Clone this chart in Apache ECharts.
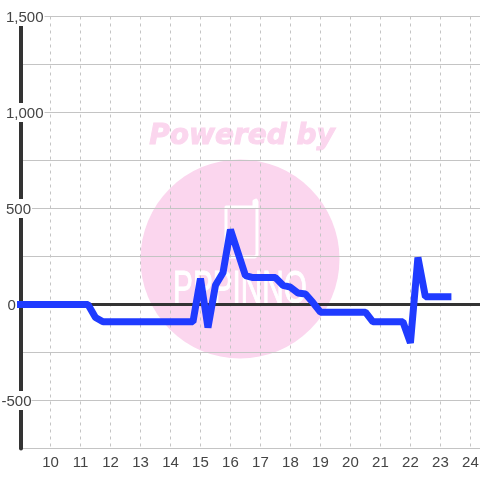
<!DOCTYPE html>
<html>
<head>
<meta charset="utf-8">
<style>
html, body { margin: 0; padding: 0; background: #fff; }
#main { width: 480px; height: 480px; }
</style>
<script src="https://cdn.jsdelivr.net/npm/echarts@6/dist/echarts.min.js"></script>
</head>
<body>
<div id="main"></div>
<script>
const hours = [9, 9.25, 9.5, 9.75, 10, 10.25, 10.5, 10.75, 11, 11.25, 11.5, 11.75, 12, 12.25, 12.5, 12.75, 13, 13.25, 13.5, 13.75, 14, 14.25, 14.5, 14.75, 15, 15.25, 15.5, 15.75, 16, 16.25, 16.5, 16.75, 17, 17.25, 17.5, 17.75, 18, 18.25, 18.5, 18.75, 19, 19.25, 19.5, 19.75, 20, 20.25, 20.5, 20.75, 21, 21.25, 21.5, 21.75, 22, 22.25, 22.5, 22.75, 23, 23.25];
const values = [0, 0, 0, 0, 0, 0, 0, 0, 0, 0, -68, -90, -90, -90, -90, -90, -90, -90, -90, -90, -90, -90, -90, -90, 135, -120, 100, 165, 390, 270, 150, 140, 140, 140, 140, 100, 90, 60, 55, 10, -40, -40, -40, -40, -40, -40, -40, -90, -90, -90, -90, -90, -200, 245, 40, 40, 40, 40];
const xTicks = [10, 11, 12, 13, 14, 15, 16, 17, 18, 19, 20, 21, 22, 23, 24];
const zeroLine = 0;
const font = 'Liberation Sans';

const chart = echarts.init(document.getElementById('main'));
chart.setOption({
    animation: false,
    backgroundColor: '#fff',
    textStyle: { fontFamily: font },
    graphic: [
        {
            type: 'circle',
            z: -1,
            shape: { cx: 240, cy: 259, r: 99.5 },
            style: { fill: '#fbd6ee' }
        },
        {
            type: 'text',
            z: -1,
            style: {
                x: 242, y: 137,
                text: 'Powered by',
                align: 'center',
                verticalAlign: 'middle',
                font: 'italic bold 28px "DejaVu Sans"',
                fill: '#fbd6ee',
                stroke: '#fbd6ee',
                lineWidth: 1
            }
        },
        {
            type: 'text',
            z: -1,
            x: 240,
            y: 290,
            scaleX: 0.93,
            scaleY: 1.43,
            style: {
                text: 'PPPINNO',
                align: 'center',
                verticalAlign: 'middle',
                font: '32px "Liberation Sans"',
                fill: '#fff',
                stroke: '#fff',
                lineWidth: 0.7
            }
        },
        {
            type: 'polyline',
            z: -1,
            shape: { points: [[226, 257], [226, 207], [254, 207], [254, 201], [256, 200], [257, 202], [257, 255], [255, 257], [226, 257]] },
            style: { fill: 'none', stroke: '#fff', lineWidth: 3, lineJoin: 'round' }
        }
    ],
    grid: { left: 20.5, right: 0, top: 16.5, bottom: 31.5, outerBoundsMode: 'none' },
    xAxis: {
        type: 'value',
        min: 9,
        max: 24.32,
        interval: 1,
        axisLine: { onZero: false, show: false },
        axisTick: { show: false },
        axisLabel: {
            color: '#444',
            fontFamily: font,
            fontSize: 15,
            margin: 7,
            customValues: xTicks
        },
        splitLine: { show: true, lineStyle: { color: '#c4c4c4', type: [3, 4], width: 1 } }
    },
    yAxis: {
        type: 'value',
        min: -750,
        max: 1500,
        interval: 250,
        axisLine: { show: true, onZero: false, lineStyle: { color: '#333', width: 4 } },
        axisTick: { show: false },
        axisLabel: {
            inside: true,
            margin: -19,
            align: 'left',
            color: '#444',
            fontFamily: font,
            fontSize: 15,
            formatter: function (v) {
                if (v % 500 !== 0 || v === -750) return '';
                const s = v.toLocaleString('en-US');
                if (v === 0) return '{zero|' + s + '}';
                if (v < 0) return '{neg|' + s + '}';
                return '{pos|' + s + '}';
            },
            rich: {
                zero: { backgroundColor: '#fff', padding: [3, 0, 1, 6], fontFamily: font, fontSize: 15, color: '#444' },
                neg: { backgroundColor: '#fff', padding: [3, 0, 1, 0], fontFamily: font, fontSize: 15, color: '#444' },
                pos: { backgroundColor: '#fff', padding: [3, 1, 1, 4.5], fontFamily: font, fontSize: 15, color: '#444' }
            }
        },
        splitLine: { show: true, lineStyle: { color: '#c4c4c4', width: 1 } }
    },
    series: [
        {
            type: 'line',
            data: hours.map((h, i) => [h, values[i]]),
            showSymbol: false,
            clip: false,
            z: 5,
            lineStyle: { color: '#1f3bff', width: 7, cap: 'square', join: 'bevel' },
            markLine: {
                silent: true,
                symbol: 'none',
                z: 1,
                label: { show: false },
                lineStyle: { color: '#333', width: 3, type: 'solid' },
                data: [{ yAxis: zeroLine }]
            }
        }
    ]
});
</script>
</body>
</html>
